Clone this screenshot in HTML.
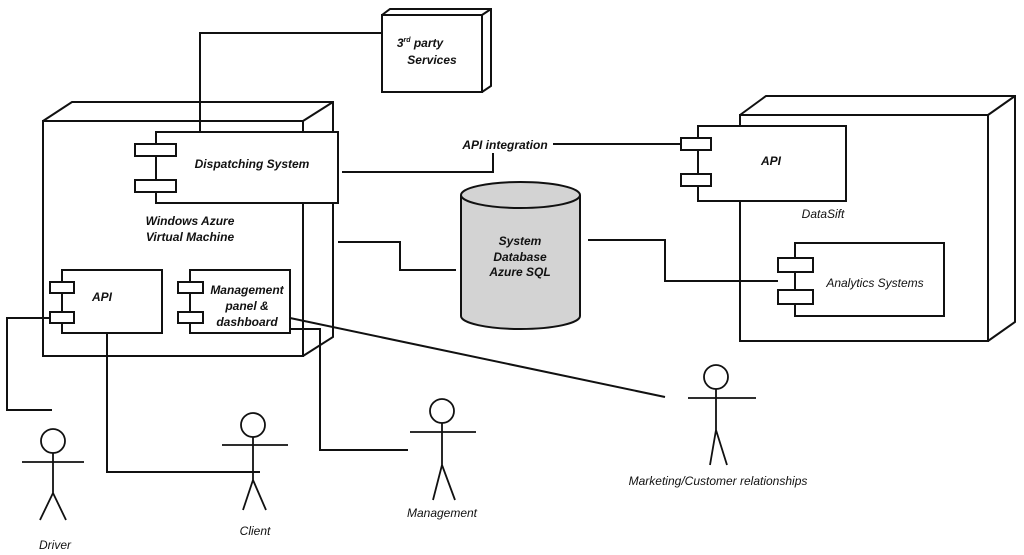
<!DOCTYPE html>
<html><head><meta charset="utf-8"><style>
html,body{margin:0;padding:0;background:#fff;}
svg{display:block;}
text{font-family:"Liberation Sans",sans-serif;font-style:italic;fill:#111;}
.b{font-weight:bold;font-size:12px;}
.n{font-size:12px;}
</style></head><body>
<svg width="1024" height="555" viewBox="0 0 1024 555" xmlns="http://www.w3.org/2000/svg">
<g fill="none" stroke="#111" stroke-width="2">
<!-- 3rd party -->
<rect x="382" y="15" width="100" height="77" fill="#fff"/>
<path d="M382 15 L390 9 L491 9 L491 86 L482 92 M482 15 L491 9"/>
<path d="M382 33 H200 V132"/>
<!-- Azure VM -->
<path d="M43 121 L72 102 H333 V337 L303 356 M303 121 L333 102"/>
<rect x="43" y="121" width="260" height="235"/>
<!-- Dispatching -->
<rect x="156" y="132" width="182" height="71" fill="#fff"/>
<rect x="135" y="144" width="41" height="12" fill="#fff"/>
<rect x="135" y="180" width="41" height="12" fill="#fff"/>
<!-- API inner -->
<rect x="62" y="270" width="100" height="63" fill="#fff"/>
<rect x="50" y="282" width="24" height="11" fill="#fff"/>
<rect x="50" y="312" width="24" height="11" fill="#fff"/>
<!-- Management -->
<rect x="190" y="270" width="100" height="63" fill="#fff"/>
<rect x="178" y="282" width="25" height="11" fill="#fff"/>
<rect x="178" y="312" width="25" height="11" fill="#fff"/>
<!-- connectors -->
<path d="M50 318 H7 V410 H52"/>
<path d="M107 333 V472 H260"/>
<path d="M290 329 H320 V450 H408"/>
<path d="M290 318 L665 397"/>
<path d="M342 172 H493 V153"/>
<path d="M553 144 H681"/>
<path d="M338 242 H400 V270 H456"/>
<path d="M588 240 H665 V281 H778"/>
<!-- cylinder -->
<path d="M461 195 V316 A59.5 13 0 0 0 580 316 V195" fill="#d3d3d3"/>
<ellipse cx="520.5" cy="195" rx="59.5" ry="13" fill="#d3d3d3"/>
<!-- DataSift -->
<path d="M740 115 L766 96 H1015 V322 L988 341 M988 115 L1015 96"/>
<rect x="740" y="115" width="248" height="226"/>
<rect x="698" y="126" width="148" height="75" fill="#fff"/>
<rect x="681" y="138" width="30" height="12" fill="#fff"/>
<rect x="681" y="174" width="30" height="12" fill="#fff"/>
<rect x="795" y="243" width="149" height="73" fill="#fff"/>
<rect x="778" y="258" width="35" height="14" fill="#fff"/>
<rect x="778" y="290" width="35" height="14" fill="#fff"/>
<!-- actors -->
<g stroke-width="1.8">
<circle cx="53" cy="441" r="12"/><path d="M53 453 V493 M22 462 H84 M53 493 L40 520 M53 493 L66 520"/>
<circle cx="253" cy="425" r="12"/><path d="M253 437 V480 M222 445 H288 M253 480 L243 510 M253 480 L266 510"/>
<circle cx="442" cy="411" r="12"/><path d="M442 423 V465 M410 432 H476 M442 465 L433 500 M442 465 L455 500"/>
<circle cx="716" cy="377" r="12"/><path d="M716 389 V430 M688 398 H756 M716 430 L710 465 M716 430 L727 465"/>
</g>
</g>
<text class="b" x="420" y="47" text-anchor="middle">3<tspan font-size="7" dy="-5">rd</tspan><tspan dy="5"> party</tspan></text>
<text class="b" x="432" y="64" text-anchor="middle">Services</text>
<text class="b" x="252" y="168" text-anchor="middle">Dispatching System</text>
<text class="b" x="190" y="225" text-anchor="middle">Windows Azure</text>
<text class="b" x="190" y="241" text-anchor="middle">Virtual Machine</text>
<text class="b" x="102" y="301" text-anchor="middle">API</text>
<text class="b" x="247" y="294" text-anchor="middle">Management</text>
<text class="b" x="247" y="310" text-anchor="middle">panel &amp;</text>
<text class="b" x="247" y="326" text-anchor="middle">dashboard</text>
<text class="b" x="505" y="149" text-anchor="middle">API integration</text>
<text class="b" x="520" y="245" text-anchor="middle">System</text>
<text class="b" x="520" y="261" text-anchor="middle">Database</text>
<text class="b" x="520" y="276" text-anchor="middle">Azure SQL</text>
<text class="b" x="771" y="165" text-anchor="middle">API</text>
<text class="n" x="823" y="218" text-anchor="middle">DataSift</text>
<text class="n" x="875" y="287" text-anchor="middle">Analytics Systems</text>
<text class="n" x="55" y="549" text-anchor="middle">Driver</text>
<text class="n" x="255" y="535" text-anchor="middle">Client</text>
<text class="n" x="442" y="517" text-anchor="middle">Management</text>
<text class="n" x="718" y="485" text-anchor="middle">Marketing/Customer relationships</text>
</svg>
</body></html>
